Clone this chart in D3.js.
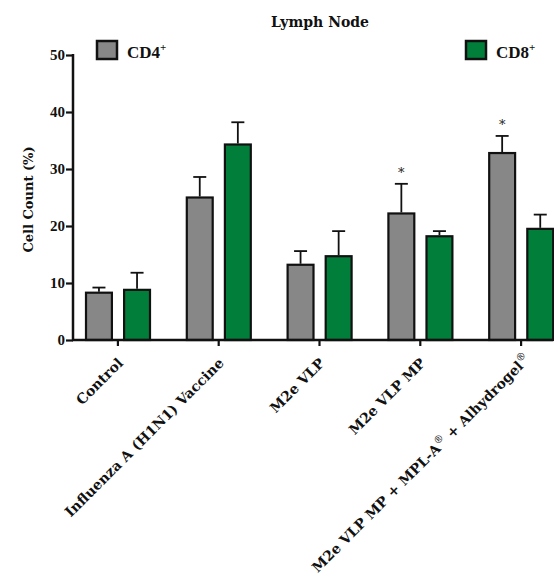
<!DOCTYPE html>
<html>
<head>
    <meta charset='utf-8'>
    <title>Lymph Node</title>
    <script src='https://d3js.org/d3.v7.min.js'></script>
    <style>
        body { margin: 0; background: #fff; }
        text { font-family: 'DejaVu Serif', serif; font-weight: bold; fill: #111; }
    </style>
</head>
<body>
<div id='chart'></div>
<script type='text/javascript'>
    // dados
    const groups = ['Control', 'Influenza A (H1N1) Vaccine', 'M2e VLP', 'M2e VLP MP', 'M2e VLP MP + MPL-A + Alhydrogel'];
    const series = ['CD4', 'CD8'];
    const cd4 = [8.3, 25.0, 13.2, 22.2, 32.8];
    const cd4Err = [0.9, 3.6, 2.4, 5.2, 3.0];
    const cd8 = [8.8, 34.3, 14.7, 18.2, 19.5];
    const cd8Err = [3.0, 3.9, 4.4, 0.9, 2.5];
    const stars = [false, false, false, true, true];
    const yTicks = [0, 10, 20, 30, 40, 50];

    const W = 554, H = 581;
    const colors = {CD4: '#878787', CD8: '#017f3a'};

    const svg = d3.select('#chart').append('svg')
        .attr('width', W).attr('height', H);

    const x0 = 73, yBase = 340;

    const xScale = d3.scaleBand().domain(groups).range([67.5, 571.5]).padding(0);
    const xInner = d3.scaleBand().domain(series).range([18.5, 82.5]).paddingInner(0.32);
    const yScale = d3.scaleLinear().domain([0, 50]).range([yBase, 55]);

    const data = [];
    groups.forEach((g, i) => {
        data.push({g: g, s: 'CD4', v: cd4[i], e: cd4Err[i], star: stars[i]});
        data.push({g: g, s: 'CD8', v: cd8[i], e: cd8Err[i], star: false});
    });

    // barras
    const bars = svg.append('g');
    bars.selectAll('rect')
        .data(data)
        .enter()
        .append('rect')
        .attr('x', d => xScale(d.g) + xInner(d.s))
        .attr('y', d => yScale(d.v))
        .attr('width', xInner.bandwidth())
        .attr('height', d => yBase - yScale(d.v))
        .attr('fill', d => colors[d.s])
        .attr('stroke', '#111')
        .attr('stroke-width', 2.2);

    // barras de erro (só para cima)
    const err = svg.append('g').attr('stroke', '#111').attr('stroke-width', 1.8);
    data.forEach(d => {
        const cx = xScale(d.g) + xInner(d.s) + xInner.bandwidth() / 2;
        err.append('line')
            .attr('x1', cx).attr('x2', cx)
            .attr('y1', yScale(d.v) - 1).attr('y2', yScale(d.v + d.e));
        err.append('line')
            .attr('x1', cx - 6.5).attr('x2', cx + 6.5)
            .attr('y1', yScale(d.v + d.e)).attr('y2', yScale(d.v + d.e));
        if (d.star) {
            svg.append('text')
                .attr('x', cx).attr('y', yScale(d.v + d.e) - 7)
                .attr('text-anchor', 'middle')
                .attr('font-size', '13px')
                .style('font-weight', 'normal')
                .style('fill', '#222')
                .text('*');
        }
    });

    // Eixo Y
    const yAxis = d3.axisLeft(yScale).tickValues(yTicks).tickSize(7).tickPadding(1);
    const gy = svg.append('g')
        .attr('transform', `translate(${x0},0)`)
        .call(yAxis);
    gy.select('.domain').attr('stroke', '#111').attr('stroke-width', 2.5)
        .attr('d', `M0,${yScale(50) - 1}V${yBase + 1}`);
    gy.selectAll('.tick line').attr('stroke', '#111').attr('stroke-width', 2.2);
    gy.selectAll('.tick text').attr('font-size', '15px').attr('fill', '#111')
        .style('font-family', "'Liberation Serif', serif");

    // Eixo X
    const xAxis = d3.axisBottom(xScale).tickSize(6).tickFormat('');
    const gx = svg.append('g')
        .attr('transform', `translate(0,${yBase})`)
        .call(xAxis);
    gx.select('.domain').attr('stroke', '#111').attr('stroke-width', 2.5)
        .attr('d', `M${x0 - 1},0H553`);
    gx.selectAll('.tick line').attr('stroke', '#111').attr('stroke-width', 2.2)
        .attr('y1', 1);

    // rótulos das categorias, girados
    const labels = svg.append('g');
    groups.forEach((g, i) => {
        const tx = xScale(g) + xScale.bandwidth() / 2;
        const t = labels.append('text')
            .attr('transform', `translate(${tx + 6},${yBase + 24}) rotate(-45)`)
            .attr('text-anchor', 'end')
            .attr('font-size', '14px');
        if (i === 4) {
            t.append('tspan').text('M2e VLP MP + MPL-A');
            t.append('tspan').attr('dy', -6).attr('font-size', '10px').style('font-weight', 'normal').text('®');
            t.append('tspan').attr('dy', 6).text(' + Alhydrogel');
            t.append('tspan').attr('dy', -6).attr('font-size', '10px').style('font-weight', 'normal').text('®');
            t.attr('transform', `translate(${tx + 6 + 4},${yBase + 24 - 4}) rotate(-45)`);
        } else {
            t.text(g);
        }
    });

    // título do eixo Y
    svg.append('text')
        .attr('transform', `translate(33,${(yScale(50) + yBase) / 2 + 2}) rotate(-90)`)
        .attr('text-anchor', 'middle')
        .attr('font-size', '13px')
        .text('Cell Count (%)');

    // título
    svg.append('text')
        .attr('x', 320).attr('y', 27)
        .attr('text-anchor', 'middle')
        .attr('font-size', '14px')
        .text('Lymph Node');

    // legenda
    const legendPos = [{s: 'CD4', x: 97}, {s: 'CD8', x: 466}];
    legendPos.forEach(l => {
        svg.append('rect')
            .attr('x', l.x).attr('y', 41)
            .attr('width', 20).attr('height', 18)
            .attr('fill', colors[l.s])
            .attr('stroke', '#111').attr('stroke-width', 2.5);
        const t = svg.append('text')
            .attr('x', l.x + 30).attr('y', 58)
            .attr('font-size', '17px')
            .style('font-family', "'Liberation Serif', serif");
        t.append('tspan').text(l.s);
        t.append('tspan').attr('dy', -7).attr('font-size', '11px').text('+');
    });
</script>
</body>
</html>
